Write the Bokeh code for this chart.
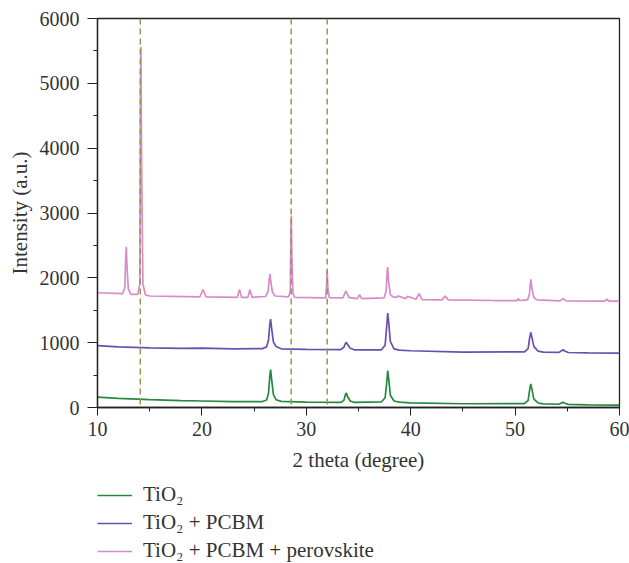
from bokeh.plotting import figure
from bokeh.layouts import column
from bokeh.models import Legend, LegendItem, Span, FixedTicker
from bokeh.embed import file_html
from bokeh.resources import INLINE

# ---- data ----
tio2_x = [10, 12, 15, 18, 20, 23, 25.8, 26.2, 26.38, 26.5, 26.58, 26.68, 26.85, 27.1, 27.6, 30,
          33.3, 33.6, 33.75, 33.85, 33.95, 34.2, 34.6, 37.2, 37.55, 37.7, 37.8, 37.9, 38.05, 38.4, 38.9,
          40, 45, 50.9, 51.25, 51.4, 51.5, 51.6, 51.8, 52.2, 52.7, 54.2, 54.5, 54.6, 54.75, 55.1, 57, 60]
tio2_y = [160, 140, 120, 105, 100, 92, 92, 115, 220, 480, 585, 430, 200, 120, 95, 82,
          78, 110, 200, 225, 170, 100, 80, 88, 150, 380, 570, 430, 190, 100, 82,
          72, 58, 60, 110, 280, 365, 290, 130, 70, 55, 50, 75, 80, 65, 48, 42, 38]

pcbm_x = [10, 12, 15, 18, 20, 23, 25.8, 26.2, 26.38, 26.5, 26.58, 26.68, 26.85, 27.1, 27.6, 30,
          33.3, 33.6, 33.75, 33.85, 33.95, 34.2, 34.6, 37.2, 37.55, 37.7, 37.8, 37.9, 38.05, 38.4, 38.9,
          40, 45, 50.9, 51.25, 51.4, 51.5, 51.6, 51.8, 52.2, 52.7, 54.2, 54.5, 54.6, 54.75, 55.1, 57, 60]
pcbm_y = [955, 935, 920, 912, 915, 905, 908, 935, 1040, 1280, 1365, 1220, 1010, 940, 905, 895,
          893, 930, 990, 1005, 970, 915, 890, 890, 960, 1250, 1455, 1300, 1020, 905, 885,
          875, 855, 858, 910, 1080, 1160, 1090, 940, 870, 855, 850, 880, 890, 872, 848, 842, 838]

pero_x = [10, 12.4, 12.62, 12.7, 12.76, 12.82, 12.95, 13.2, 13.85, 14.05, 14.12, 14.16, 14.22, 14.35, 14.6,
          15, 19.8, 20.1, 20.4, 23.4, 23.6, 23.8, 24.4, 24.6, 24.8,
          26.1, 26.35, 26.45, 26.52, 26.6, 26.75, 27.0, 28.3, 28.47, 28.52, 28.56, 28.62, 28.72, 28.9,
          31.85, 31.95, 32.0, 32.06, 32.2, 33.5, 33.8, 34.1, 34.9, 35.1, 35.3,
          37.45, 37.65, 37.75, 37.8, 37.88, 38.05, 38.3, 38.6, 38.8, 39.5, 39.7, 40.5, 40.8, 41.1,
          43.0, 43.3, 43.6, 48, 50.2, 50.3, 50.45, 51.2, 51.38, 51.46, 51.52, 51.6, 51.78, 52.1,
          54.3, 54.6, 54.9, 58.6, 58.8, 59.0, 60]
pero_y = [1770, 1755, 1850, 2300, 2480, 2200, 1830, 1745, 1745, 1900, 5000, 5560, 3800, 1900, 1735,
          1720, 1705, 1820, 1705, 1700, 1820, 1700, 1700, 1815, 1700,
          1712, 1790, 1980, 2060, 1950, 1780, 1720, 1705, 1800, 2700, 2960, 2300, 1760, 1700,
          1690, 1900, 2110, 1850, 1695, 1690, 1795, 1695, 1680, 1740, 1680,
          1690, 1800, 2100, 2165, 1950, 1740, 1705, 1700, 1720, 1680, 1715, 1670, 1755, 1665,
          1660, 1718, 1660, 1650, 1650, 1680, 1650, 1660, 1750, 1920, 1975, 1850, 1700, 1660,
          1645, 1680, 1645, 1640, 1670, 1640, 1640]

ref_lines = [14.1, 28.55, 32.0]
labels = ["TiO\u2082", "TiO\u2082 + PCBM", "TiO\u2082 + PCBM + perovskite"]
colors = ["#268a3d", "#6a4fb0", "#d78cc8"]
x_ticks = [10, 20, 30, 40, 50, 60]
x_minor = [15, 25, 35, 45, 55]
y_ticks = [0, 1000, 2000, 3000, 4000, 5000, 6000]
y_minor = [500, 1500, 2500, 3500, 4500, 5500]

FONT = "Liberation Serif"
TXT = "#333333"

p = figure(width=629, height=480, x_range=(10, 60), y_range=(0, 6000),
           output_backend="svg", toolbar_location=None,
           min_border_left=97, min_border_right=10, min_border_top=18, min_border_bottom=73)
p.grid.visible = False
p.outline_line_color = "#222222"
p.outline_line_width = 1.3

for xv in ref_lines:
    p.add_layout(Span(location=xv, dimension="height", line_color="#959558",
                      line_width=1.5, line_dash="6 4"))

series = [(tio2_x, tio2_y), (pcbm_x, pcbm_y), (pero_x, pero_y)]
for (xs, ys), c in zip(series, colors):
    p.line(xs, ys, line_color=c, line_width=1.7)

p.xaxis.ticker = FixedTicker(ticks=x_ticks, minor_ticks=x_minor)
p.yaxis.ticker = FixedTicker(ticks=y_ticks, minor_ticks=y_minor)
p.xaxis.axis_label = "2 theta (degree)"
p.yaxis.axis_label = "Intensity (a.u.)"

for ax in (p.xaxis, p.yaxis):
    ax.axis_line_color = "#222222"
    ax.axis_line_width = 1.3
    ax.major_tick_line_color = "#222222"
    ax.minor_tick_line_color = "#222222"
    ax.major_tick_in = 0
    ax.minor_tick_in = 0
    ax.minor_tick_out = 4
    ax.major_label_text_font = FONT
    ax.major_label_text_font_size = "20px"
    ax.major_label_text_color = TXT
    ax.axis_label_text_font = FONT
    ax.axis_label_text_font_size = "21px"
    ax.axis_label_text_font_style = "normal"
    ax.axis_label_text_color = TXT
p.xaxis.major_tick_out = 8
p.yaxis.major_tick_out = 10
p.yaxis.axis_label_standoff = 5
p.xaxis.axis_label_standoff = 9
p.xaxis.major_label_standoff = 6
p.yaxis.major_label_standoff = 8

# legend panel below the chart (its series lie outside its own ranges, so only the legend shows)
lg = figure(width=629, height=83, x_range=(0, 1), y_range=(0, 1), output_backend="svg",
            toolbar_location=None, min_border=0, x_axis_location=None, y_axis_location=None)
lg.grid.visible = False
lg.outline_line_color = None
lrs = [lg.line(xs, ys, line_color=c, line_width=1.7) for (xs, ys), c in zip(series, colors)]
legend = Legend(items=[LegendItem(label=labels[i], renderers=[r]) for i, r in enumerate(lrs)],
                location=(0, 0), orientation="vertical")
legend.border_line_color = None
legend.background_fill_alpha = 0
legend.label_text_font = FONT
legend.label_text_font_size = "21px"
legend.label_text_color = TXT
legend.glyph_width = 35
legend.glyph_height = 24
legend.label_height = 24
legend.label_standoff = 11
legend.spacing = 3
legend.padding = 0
legend.margin = 0
lg.add_layout(legend, "center")

layout = column(p, lg, spacing=0)
open("out.html", "w").write(file_html(layout, INLINE))
